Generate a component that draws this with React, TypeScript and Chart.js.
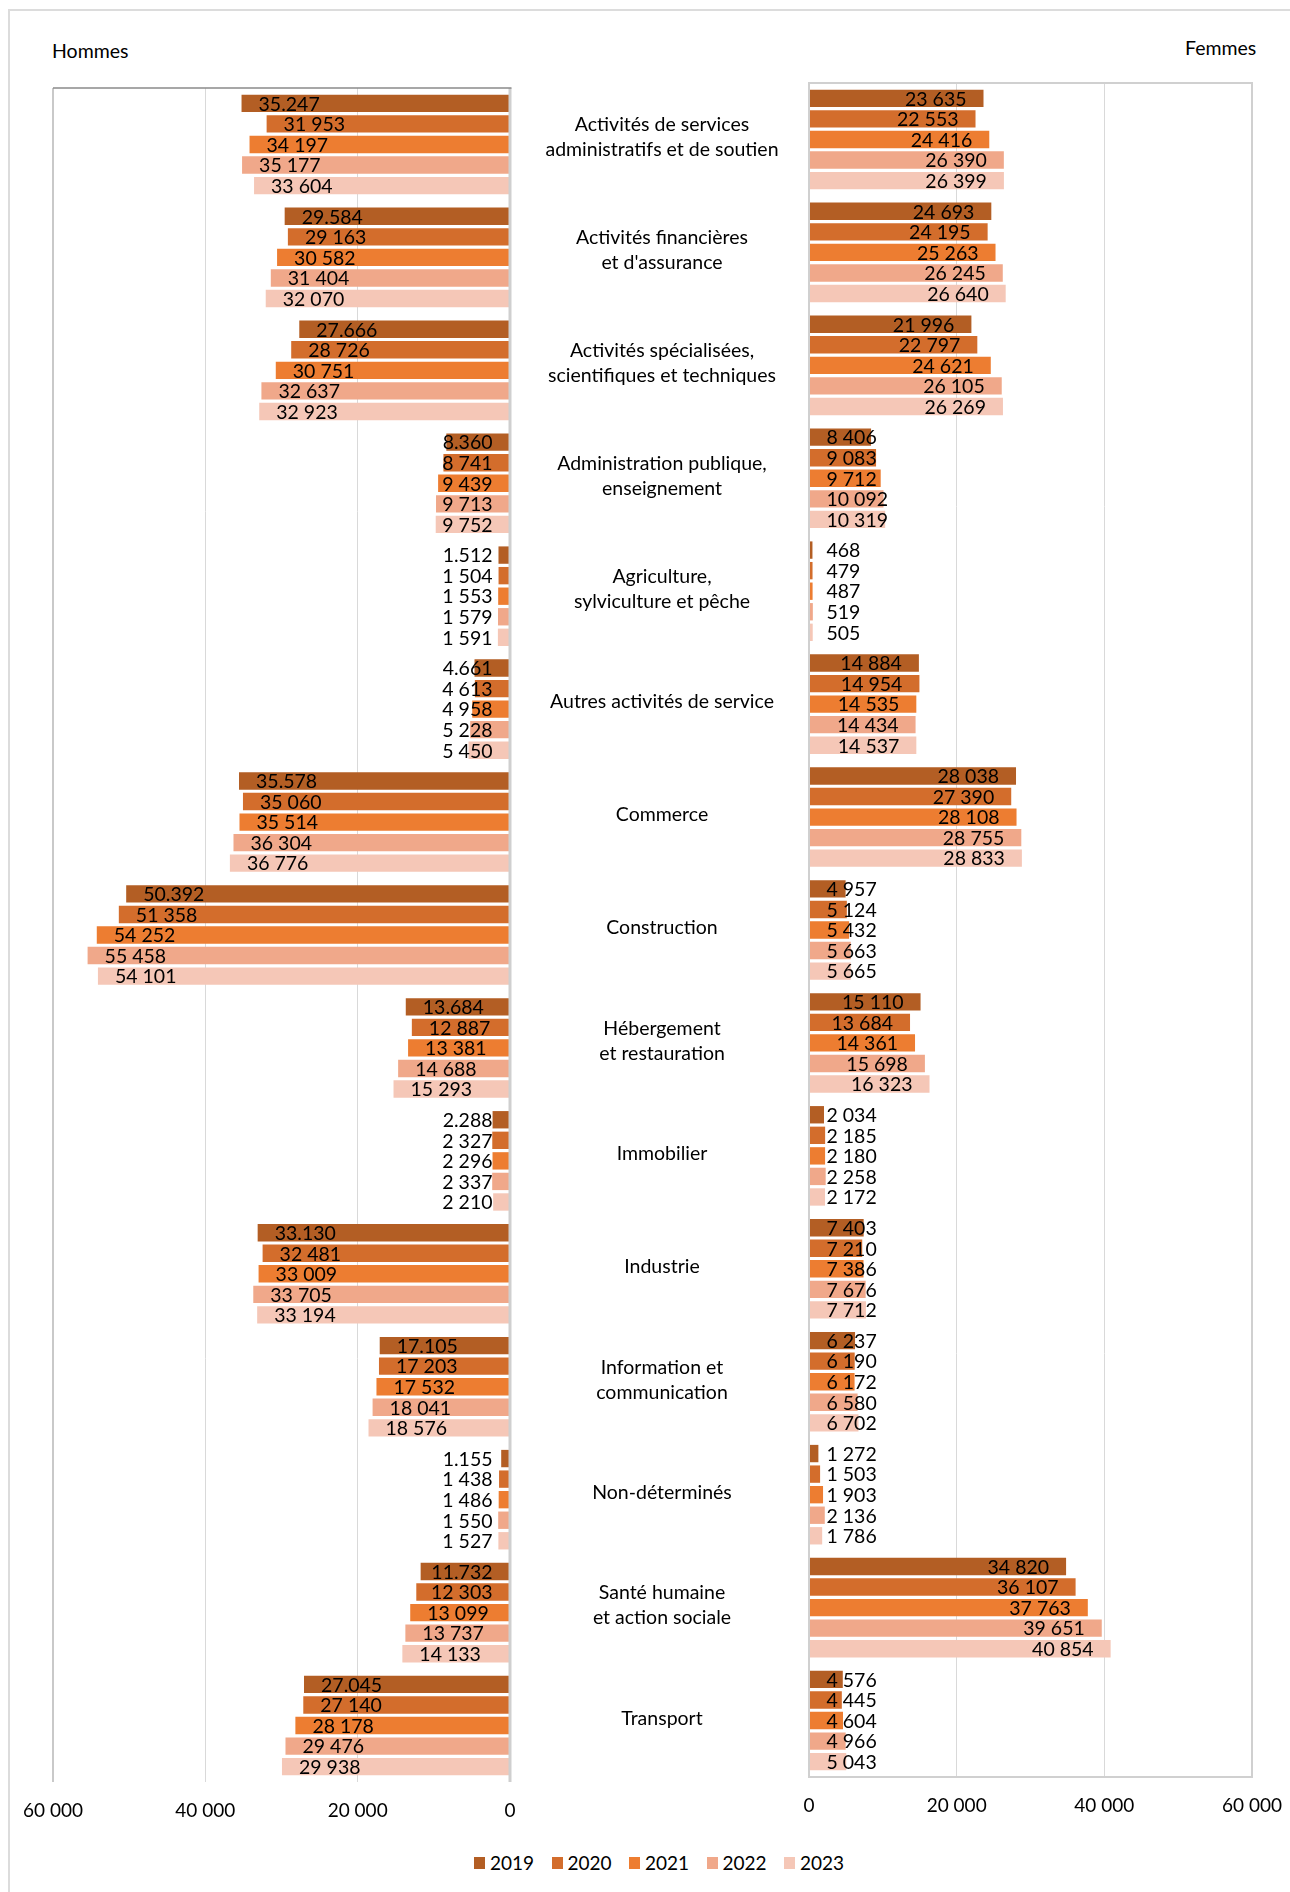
import React, { useEffect, useRef } from "react";
import { Chart, registerables } from "chart.js";

Chart.register(...registerables);

const FONT = "Lato, 'Noto Sans', sans-serif";

const categories: string[][] = [
  ["Activités de services", "administratifs et de soutien"],
  ["Activités financières", "et d'assurance"],
  ["Activités spécialisées,", "scientifiques et techniques"],
  ["Administration publique,", "enseignement"],
  ["Agriculture,", "sylviculture et pêche"],
  ["Autres activités de service"],
  ["Commerce"],
  ["Construction"],
  ["Hébergement", "et restauration"],
  ["Immobilier"],
  ["Industrie"],
  ["Information et", "communication"],
  ["Non-déterminés"],
  ["Santé humaine", "et action sociale"],
  ["Transport"],
];

const years = ["2019", "2020", "2021", "2022", "2023"];
const yearColors = ["#B35E24", "#D36D2C", "#ED7D31", "#F0A88A", "#F5C7B7"];

// Hommes
const hommes2019 = [35247, 29584, 27666, 8360, 1512, 4661, 35578, 50392, 13684, 2288, 33130, 17105, 1155, 11732, 27045];
const hommes2020 = [31953, 29163, 28726, 8741, 1504, 4613, 35060, 51358, 12887, 2327, 32481, 17203, 1438, 12303, 27140];
const hommes2021 = [34197, 30582, 30751, 9439, 1553, 4958, 35514, 54252, 13381, 2296, 33009, 17532, 1486, 13099, 28178];
const hommes2022 = [35177, 31404, 32637, 9713, 1579, 5228, 36304, 55458, 14688, 2337, 33705, 18041, 1550, 13737, 29476];
const hommes2023 = [33604, 32070, 32923, 9752, 1591, 5450, 36776, 54101, 15293, 2210, 33194, 18576, 1527, 14133, 29938];

// Femmes
const femmes2019 = [23635, 24693, 21996, 8406, 468, 14884, 28038, 4957, 15110, 2034, 7403, 6237, 1272, 34820, 4576];
const femmes2020 = [22553, 24195, 22797, 9083, 479, 14954, 27390, 5124, 13684, 2185, 7210, 6190, 1503, 36107, 4445];
const femmes2021 = [24416, 25263, 24621, 9712, 487, 14535, 28108, 5432, 14361, 2180, 7386, 6172, 1903, 37763, 4604];
const femmes2022 = [26390, 26245, 26105, 10092, 519, 14434, 28755, 5663, 15698, 2258, 7676, 6580, 2136, 39651, 4966];
const femmes2023 = [26399, 26640, 26269, 10319, 505, 14537, 28833, 5665, 16323, 2172, 7712, 6702, 1786, 40854, 5043];

// thousands separator used in each year's value labels
const hommesSeparators = [".", " ", " ", " ", " "];
const femmesSeparators = [" ", " ", " ", " ", " "];

const axisTicks = [0, 20000, 40000, 60000];

function fmt(v: number, sep: string): string {
  const s = String(Math.round(Math.abs(v)));
  let out = "";
  for (let i = 0; i < s.length; i++) {
    if (i > 0 && (s.length - i) % 3 === 0) out += sep;
    out += s[i];
  }
  return out;
}

function valueLabels(side: "left" | "right", seps: string[]) {
  return {
    id: "valueLabels",
    afterDatasetsDraw(chart: any) {
      const ctx = chart.ctx;
      ctx.save();
      ctx.font = `19.5px ${FONT}`;
      ctx.fillStyle = "#000";
      ctx.textBaseline = "middle";
      ctx.textAlign = "left";
      chart.data.datasets.forEach((ds: any, di: number) => {
        const meta = chart.getDatasetMeta(di);
        meta.data.forEach((bar: any, i: number) => {
          const text = fmt(ds.data[i], seps[di]);
          const w = ctx.measureText(text).width;
          let x: number;
          if (side === "left") x = Math.min(bar.x + 17, bar.base - 17 - w);
          else x = Math.max(bar.x - 17 - w, bar.base + 17);
          ctx.fillText(text, x, bar.y + 1);
        });
      });
      ctx.restore();
    },
  };
}

const leftFrame = {
  id: "leftFrame",
  afterDatasetsDraw(chart: any) {
    const { ctx, chartArea: a } = chart;
    ctx.save();
    ctx.strokeStyle = "#C9C9C9";
    ctx.lineWidth = 2;
    ctx.beginPath();
    ctx.moveTo(a.left, a.top);
    ctx.lineTo(a.left, a.bottom);
    ctx.stroke();
    ctx.strokeStyle = "#CFCFCF";
    ctx.lineWidth = 3;
    ctx.beginPath();
    ctx.moveTo(a.right, a.top);
    ctx.lineTo(a.right, a.bottom);
    ctx.stroke();
    ctx.strokeStyle = "#8A8A8A";
    ctx.lineWidth = 1.5;
    ctx.beginPath();
    ctx.moveTo(a.left, a.top);
    ctx.lineTo(a.right + 1.5, a.top);
    ctx.stroke();
    ctx.restore();
  },
};

const rightFrame = {
  id: "rightFrame",
  afterDatasetsDraw(chart: any) {
    const { ctx, chartArea: a } = chart;
    ctx.save();
    ctx.strokeStyle = "#D0D0D0";
    ctx.lineWidth = 2;
    ctx.strokeRect(a.left, a.top, a.right - a.left, a.bottom - a.top);
    ctx.restore();
  },
};

// sector names drawn in the gap between the two panels
const categoryLabels = {
  id: "categoryLabels",
  afterDraw(chart: any) {
    const { ctx, chartArea: a } = chart;
    const yScale = chart.scales.y;
    ctx.save();
    ctx.font = `19.5px ${FONT}`;
    ctx.fillStyle = "#000";
    ctx.textAlign = "center";
    ctx.textBaseline = "middle";
    const cx = a.left - 147;
    categories.forEach((lines, i) => {
      const cy = yScale.getPixelForValue(i) - 2;
      const lh = 25;
      lines.forEach((line, li) => {
        ctx.fillText(line, cx, cy + (li - (lines.length - 1) / 2) * lh);
      });
    });
    ctx.restore();
  },
};

function makeConfig(
  series: number[][],
  reverse: boolean,
  padding: { left: number; right: number; top: number; bottom: number },
  plugins: any[]
): any {
  return {
    type: "bar",
    data: {
      labels: categories.map((c) => c.join(" ")),
      datasets: series.map((d, i) => ({
        label: years[i],
        data: d,
        backgroundColor: yearColors[i],
        borderWidth: 0,
        categoryPercentage: 0.91,
        barPercentage: 0.845,
      })),
    },
    options: {
      indexAxis: "y",
      responsive: false,
      animation: false,
      devicePixelRatio: 1,
      layout: { padding },
      plugins: { legend: { display: false }, tooltip: { enabled: false } },
      scales: {
        x: {
          type: "linear",
          min: 0,
          max: 60000,
          reverse,
          afterFit: (s: any) => {
            s.height = 40;
          },
          afterBuildTicks: (s: any) => {
            s.ticks = axisTicks.map((v) => ({ value: v }));
          },
          ticks: {
            padding: 17,
            maxRotation: 0,
            autoSkip: false,
            color: "#000",
            font: { family: FONT, size: 19 },
            callback: (v: any) => fmt(Number(v), " "),
          },
          grid: { color: "#D9D9D9", lineWidth: 1, drawTicks: false },
          border: { display: false },
        },
        y: { display: false },
      },
    },
    plugins,
  };
}

function BarPanel(props: {
  series: number[][];
  reverse: boolean;
  left: number;
  width: number;
  height: number;
  padding: { left: number; right: number; top: number; bottom: number };
  plugins: any[];
}) {
  const ref = useRef<HTMLCanvasElement | null>(null);
  useEffect(() => {
    if (!ref.current) return;
    const chart = new Chart(
      ref.current,
      makeConfig(props.series, props.reverse, props.padding, props.plugins)
    );
    return () => chart.destroy();
  }, []);
  return (
    <canvas
      ref={ref}
      width={props.width}
      height={props.height}
      style={{
        position: "absolute",
        left: props.left,
        top: 0,
        width: props.width,
        height: props.height,
      }}
    />
  );
}

export default function App() {
  const hommes = [hommes2019, hommes2020, hommes2021, hommes2022, hommes2023];
  const femmes = [femmes2019, femmes2020, femmes2021, femmes2022, femmes2023];
  return (
    <div
      style={{
        position: "absolute",
        left: 0,
        top: 0,
        width: 1290,
        height: 1892,
        overflow: "hidden",
        background: "#fff",
        fontFamily: FONT,
      }}
    >
      <div
        style={{
          position: "absolute",
          left: 8,
          top: 9,
          width: 1400,
          height: 2000,
          border: "2px solid #DCDCDC",
          boxSizing: "border-box",
        }}
      />
      <div style={{ position: "absolute", left: 52, top: 40, fontSize: 19.5, lineHeight: "22px", color: "#000" }}>
        Hommes
      </div>
      <div style={{ position: "absolute", left: 1185, top: 37, fontSize: 19.5, lineHeight: "22px", color: "#000" }}>
        Femmes
      </div>
      <BarPanel
        series={hommes}
        reverse={true}
        left={0}
        width={540}
        height={1840}
        padding={{ left: 53, right: 30, top: 88, bottom: 18 }}
        plugins={[leftFrame, valueLabels("left", hommesSeparators)]}
      />
      <BarPanel
        series={femmes}
        reverse={false}
        left={510}
        width={800}
        height={1840}
        padding={{ left: 299, right: 58, top: 83, bottom: 23 }}
        plugins={[rightFrame, valueLabels("right", femmesSeparators), categoryLabels]}
      />
      <div
        style={{
          position: "absolute",
          left: 474,
          top: 1853,
          display: "flex",
          fontSize: 19,
          lineHeight: "20px",
          color: "#000",
        }}
      >
        {years.map((y, i) => (
          <div key={y} style={{ width: 77.5, display: "flex", alignItems: "center" }}>
            <span
              style={{
                display: "inline-block",
                width: 11,
                height: 12,
                background: yearColors[i],
                marginRight: 5,
              }}
            />
            <span>{y}</span>
          </div>
        ))}
      </div>
    </div>
  );
}
